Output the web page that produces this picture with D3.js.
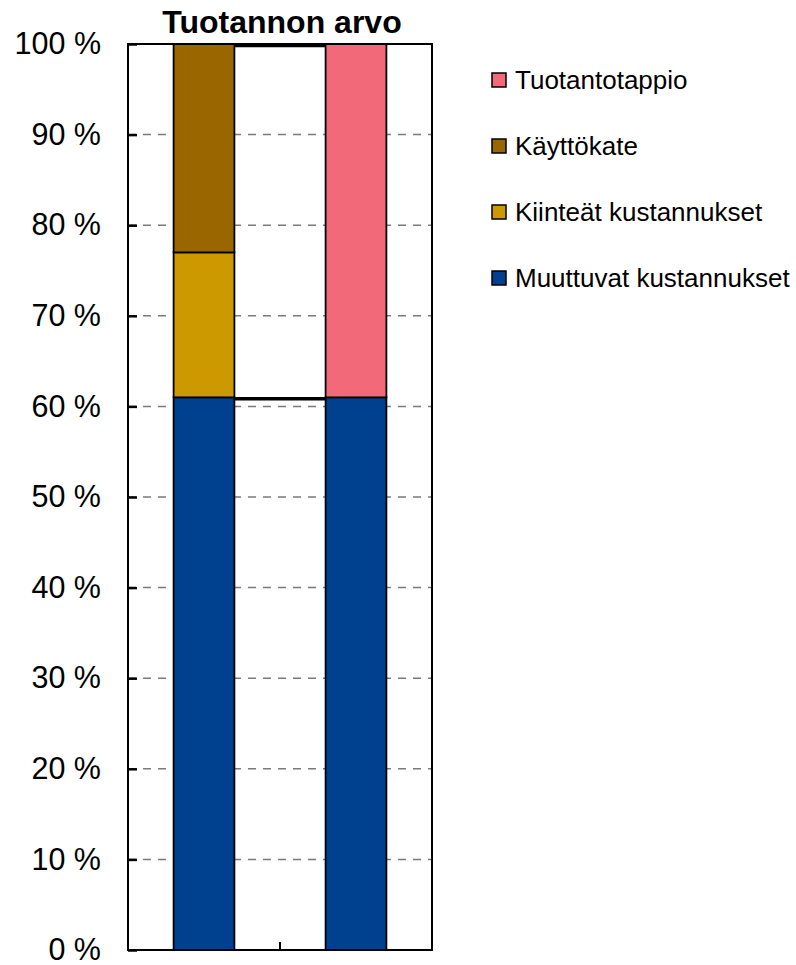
<!DOCTYPE html>
<html>
<head>
<meta charset="utf-8">
<script src="https://cdn.jsdelivr.net/npm/d3@7"></script>
<style>
  body { margin: 0; background: #fff; }
  text { font-family: "Liberation Sans", Arial, sans-serif; fill: #000; }
</style>
</head>
<body>
<div id="chart"></div>
<script>
const categories = ['a', 'b'];
const seriesNames = ['Muuttuvat kustannukset', 'Kiinteät kustannukset', 'Käyttökate', 'Tuotantotappio'];
const muuttuvat = [61, 61];
const kiinteat = [16, 0];
const kayttokate = [23, 0];
const tappio = [0, 39];
const colors = ['#00418f', '#cc9900', '#996600', '#f2697a'];
const yTicks = [0, 10, 20, 30, 40, 50, 60, 70, 80, 90, 100];

const width = 796, height = 965;
const margin = { top: 44, left: 128, right: 364, bottom: 15 };
const innerW = width - margin.left - margin.right;
const innerH = height - margin.top - margin.bottom;

const rows = categories.map((c, i) => ({
  cat: c,
  [seriesNames[0]]: muuttuvat[i],
  [seriesNames[1]]: kiinteat[i],
  [seriesNames[2]]: kayttokate[i],
  [seriesNames[3]]: tappio[i],
}));

const svg = d3.select('#chart').append('svg')
  .attr('width', width)
  .attr('height', height);

const g = svg.append('g').attr('transform', `translate(${margin.left},${margin.top})`);

const x = d3.scaleBand().domain(categories).range([0, innerW]).paddingInner(0).paddingOuter(0);
const y = d3.scaleLinear().domain([0, 100]).range([innerH, 0]);
const color = d3.scaleOrdinal().domain(seriesNames).range(colors);

// dashed grid
g.append('g')
  .selectAll('line')
  .data(yTicks.filter((d) => d > 0 && d < 100))
  .join('line')
  .attr('x1', 0).attr('x2', innerW)
  .attr('y1', (d) => y(d)).attr('y2', (d) => y(d))
  .attr('stroke', '#7a7a7a')
  .attr('stroke-width', 1.5)
  .attr('stroke-dasharray', '8,7');

const stacked = d3.stack().keys(seriesNames)(rows);
const barW = x.bandwidth() * 0.4;
const barX = (d) => x(d.data.cat) + (x.bandwidth() - barW) / 2;

g.append('g')
  .selectAll('g')
  .data(stacked)
  .join('g')
  .attr('fill', (s) => color(s.key))
  .selectAll('rect')
  .data((s) => s.filter((d) => d[1] > d[0]))
  .join('rect')
  .attr('x', barX)
  .attr('width', barW)
  .attr('y', (d) => y(d[1]))
  .attr('height', (d) => y(d[0]) - y(d[1]))
  .attr('stroke', '#000')
  .attr('stroke-width', 1.8);

// series lines between the bars
const lineLevels = [stacked[0], stacked[stacked.length - 1]];
g.append('g')
  .selectAll('line')
  .data(lineLevels)
  .join('line')
  .attr('x1', (s) => barX(s[0]) + barW)
  .attr('x2', (s) => barX(s[1]))
  .attr('y1', (s) => y(s[0][1]) + 1.5)
  .attr('y2', (s) => y(s[1][1]) + 1.5)
  .attr('stroke', '#000')
  .attr('stroke-width', 3.5);

// frame
g.append('rect')
  .attr('width', innerW).attr('height', innerH)
  .attr('fill', 'none')
  .attr('stroke', '#000')
  .attr('stroke-width', 2);

// y axis
const yAxis = d3.axisLeft(y)
  .tickValues(yTicks)
  .tickSize(-9)
  .tickPadding(27)
  .tickFormat((d) => `${d} %`);
g.append('g')
  .call(yAxis)
  .call((a) => a.select('.domain').remove())
  .call((a) => a.selectAll('line').attr('stroke', '#000').attr('stroke-width', 2.5))
  .call((a) => a.selectAll('text')
    .attr('font-size', 30.5)
    .attr('font-family', '"Liberation Sans", Arial, sans-serif')
    .attr('fill', '#000'));

// x category divider tick
g.append('line')
  .attr('x1', x(categories[1])).attr('x2', x(categories[1]))
  .attr('y1', innerH).attr('y2', innerH - 8)
  .attr('stroke', '#000')
  .attr('stroke-width', 2);

// title
svg.append('text')
  .attr('x', margin.left + innerW / 2 + 2)
  .attr('y', 33)
  .attr('text-anchor', 'middle')
  .attr('font-size', 32)
  .attr('font-weight', 'bold')
  .text('Tuotannon arvo');

// legend
const legendItems = seriesNames.slice().reverse();
const legend = svg.append('g').attr('transform', 'translate(492,80)');
const item = legend.selectAll('g')
  .data(legendItems)
  .join('g')
  .attr('transform', (d, i) => `translate(0,${i * 66})`);
item.append('rect')
  .attr('x', 0).attr('y', -7)
  .attr('width', 14).attr('height', 14)
  .attr('fill', (d) => color(d))
  .attr('stroke', '#000')
  .attr('stroke-width', 1.5);
item.append('text')
  .attr('x', 23)
  .attr('y', 9)
  .attr('font-size', 26)
  .text((d) => d);
</script>
</body>
</html>
